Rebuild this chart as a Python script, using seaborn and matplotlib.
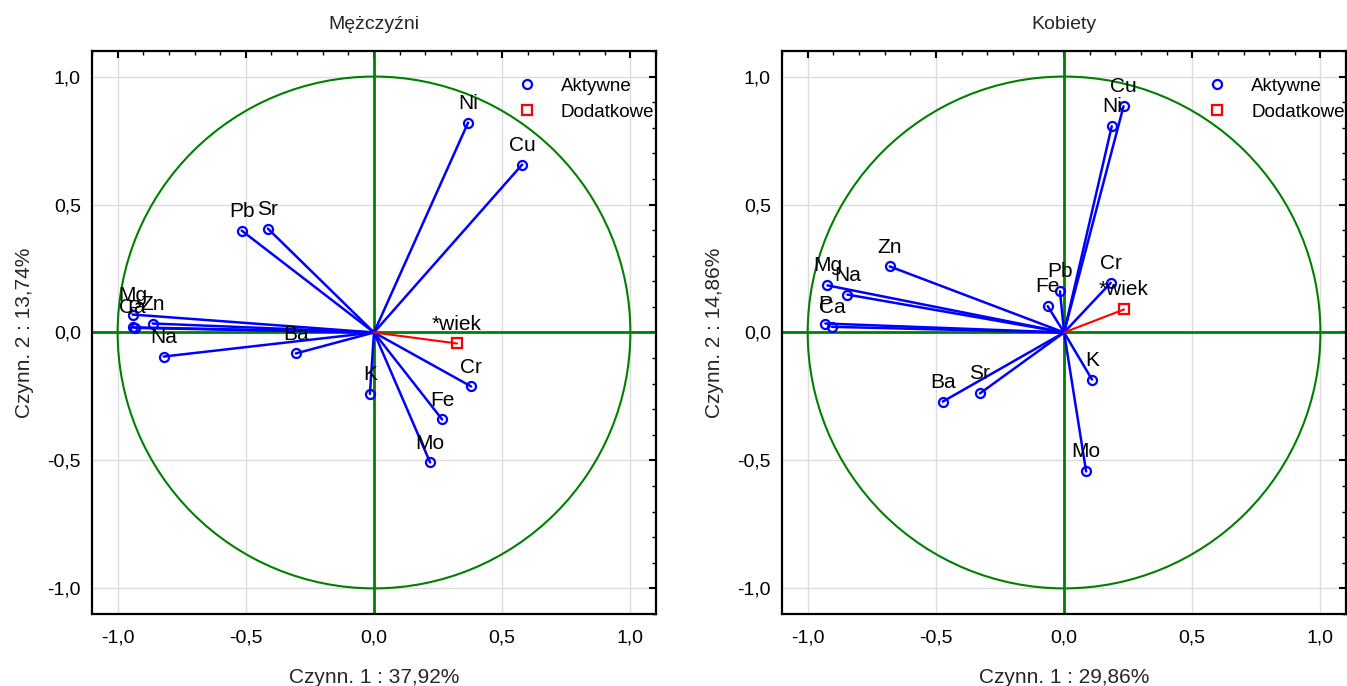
import numpy as np
import pandas as pd
import matplotlib
matplotlib.use("Agg")
import matplotlib.pyplot as plt
import seaborn as sns
from matplotlib.patches import Circle
from matplotlib.lines import Line2D
from matplotlib.ticker import MultipleLocator, FuncFormatter

# --- data: factor loadings ---
vars_m = ['Ni', 'Cu', 'Pb', 'Sr', 'Mg', 'Zn', 'Ca', 'P', 'Na', 'Ba', 'K', 'Mo', 'Fe', 'Cr']
x_m = [0.367, 0.578, -0.516, -0.414, -0.941, -0.863, -0.941, -0.934, -0.820, -0.305, -0.016, 0.219, 0.266, 0.379]
y_m = [0.820, 0.656, 0.398, 0.406, 0.070, 0.035, 0.020, 0.018, -0.094, -0.082, -0.240, -0.508, -0.340, -0.211]
sup_x_m = [0.324]
sup_y_m = [-0.043]

vars_k = ['Cu', 'Ni', 'Zn', 'Mg', 'Na', 'P', 'Ca', 'Fe', 'Pb', 'Cr', 'K', 'Mo', 'Ba', 'Sr']
x_k = [0.232, 0.186, -0.680, -0.923, -0.845, -0.931, -0.905, -0.064, -0.016, 0.182, 0.109, 0.086, -0.473, -0.328]
y_k = [0.884, 0.806, 0.258, 0.184, 0.148, 0.035, 0.022, 0.103, 0.161, 0.194, -0.184, -0.543, -0.270, -0.238]
sup_x_k = [0.234]
sup_y_k = [0.090]

sup_names = ['*wiek']
titles = ['Mężczyźni', 'Kobiety']
xlabels = ['Czynn. 1 : 37,92%', 'Czynn. 1 : 29,86%']
ylabels = ['Czynn. 2 : 13,74%', 'Czynn. 2 : 14,86%']

sns.set_theme(style="whitegrid")
plt.rcParams['font.family'] = ['Liberation Sans', 'DejaVu Sans']
plt.rcParams['font.size'] = 14


def segments(names, xs, ys):
    # each variable becomes a line from the origin to its loading
    rows = []
    for n, x, y in zip(names, xs, ys):
        rows.append({'var': n, 'x': 0.0, 'y': 0.0})
        rows.append({'var': n, 'x': x, 'y': y})
    return pd.DataFrame(rows)


def draw_panel(ax, names, xs, ys, sx, sy, title, xlabel, ylabel):
    ax.set_xlim(-1.1, 1.1)
    ax.set_ylim(-1.1, 1.1)
    ax.grid(True, color='#dcdcdc', lw=1)
    ax.axhline(0, color='green', lw=2, zorder=2)
    ax.axvline(0, color='green', lw=2, zorder=2)
    ax.add_patch(Circle((0, 0), 1, fill=False, ec='green', lw=1.5, zorder=2))

    seg = segments(names, xs, ys)
    sns.lineplot(data=seg, x='x', y='y', units='var', estimator=None, sort=False,
                 color='blue', lw=1.8, marker='o', markevery=[1], mfc='none',
                 mec='blue', mew=1.6, ms=6.5, ax=ax, legend=False, zorder=3)
    sup = segments(sup_names, sx, sy)
    sns.lineplot(data=sup, x='x', y='y', units='var', estimator=None, sort=False,
                 color='red', lw=1.5, marker='s', markevery=[1], mfc='none',
                 mec='red', mew=1.6, ms=7, ax=ax, legend=False, zorder=3)

    for n, x, y in zip(names + sup_names, xs + sx, ys + sy):
        ax.annotate(n, (x, y), xytext=(0, 14), textcoords='offset points',
                    ha='center', va='center', fontsize=15, color='black', zorder=4)

    ax.xaxis.set_major_locator(MultipleLocator(0.5))
    ax.yaxis.set_major_locator(MultipleLocator(0.5))
    ax.xaxis.set_minor_locator(MultipleLocator(0.1))
    ax.yaxis.set_minor_locator(MultipleLocator(0.1))
    fmt = FuncFormatter(lambda v, p: f"{v:.1f}".replace('.', ',').replace('−', '-'))
    ax.xaxis.set_major_formatter(fmt)
    ax.yaxis.set_major_formatter(fmt)
    ax.tick_params(which='both', direction='in', top=True, right=True, color='black',
                   labelsize=14, labelcolor='black')
    ax.tick_params(which='major', length=5, width=1.5)
    ax.tick_params(which='minor', length=3, width=1)
    ax.tick_params(axis='x', pad=11)
    ax.tick_params(axis='y', pad=8)
    for s in ax.spines.values():
        s.set_color('black')
        s.set_linewidth(1.6)

    ax.set_title(title, fontsize=14, pad=16)
    ax.set_xlabel(xlabel, fontsize=15, labelpad=16)
    ax.set_ylabel(ylabel, fontsize=15, labelpad=10)

    handles = [Line2D([], [], marker='o', ls='none', mfc='none', mec='blue', mew=1.6, ms=6.5),
               Line2D([], [], marker='s', ls='none', mfc='none', mec='red', mew=1.6, ms=7)]
    leg = ax.legend(handles, ['Aktywne', 'Dodatkowe'], loc='upper left', bbox_to_anchor=(0.755, 0.953),
                    frameon=False, prop={'size': 13.5}, handlelength=1, handletextpad=1.3,
                    borderpad=0, borderaxespad=0, labelspacing=0.5)
    for t in leg.get_texts():
        t.set_color('black')


fig = plt.figure(figsize=(13.47, 6.86), dpi=100)
ax1 = fig.add_axes([0.0683, 0.105, 0.4187, 0.8207])
ax2 = fig.add_axes([0.5806, 0.105, 0.4187, 0.8207])

draw_panel(ax1, vars_m, x_m, y_m, sup_x_m, sup_y_m, titles[0], xlabels[0], ylabels[0])
draw_panel(ax2, vars_k, x_k, y_k, sup_x_k, sup_y_k, titles[1], xlabels[1], ylabels[1])

fig.savefig("out.png", dpi=100)
